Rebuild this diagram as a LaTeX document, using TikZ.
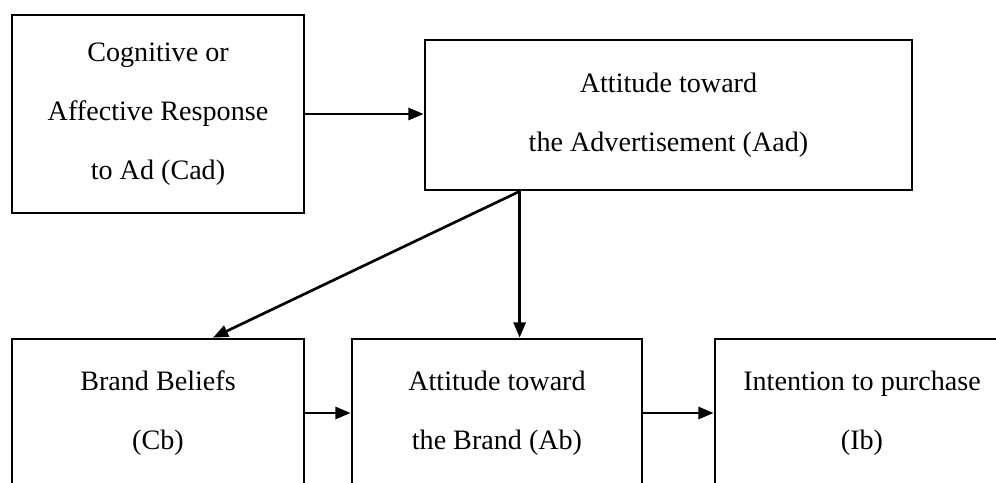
\documentclass[tikz,border=0pt]{standalone}
\usepackage{fontspec}
\setmainfont{Liberation Serif}
\usetikzlibrary{arrows.meta,positioning}

\begin{document}
\begin{tikzpicture}[
    x=0.025cm, y=-0.025cm,
    every node/.style={font=\fontsize{20}{42}\selectfont},
    box/.style={rectangle, draw, line width=1.9pt, align=center, inner sep=0pt},
    e/.style={-{Triangle[length=3.8mm, width=3mm]}, line width=1.9pt},
  ]
  \useasboundingbox (0,0) rectangle (996,482);
  \clip (0,0) rectangle (996,482);
  \node[box, minimum width=7.3cm, minimum height=4.95cm] (cad) at (158,114)
    {Cognitive or\\Affective Response\\to Ad (Cad)};
  \node[box, minimum width=12.175cm, minimum height=3.75cm] (aad) at (668.5,115)
    {Attitude toward\\the Advertisement (Aad)};
  \node[box, minimum width=7.3cm, minimum height=3.7cm] (cb) at (158,413)
    {Brand Beliefs\\(Cb)};
  \node[box, minimum width=7.25cm, minimum height=3.7cm] (ab) at (497,413)
    {Attitude toward\\the Brand (Ab)};
  \node[box, minimum width=7.35cm, minimum height=3.7cm] (ib) at (862,413)
    {Intention to purchase\\(Ib)};
  \coordinate (split) at ([xshift=2.4cm]aad.south west);
  \draw[e] (cad.east) -- (cad.east -| aad.west);
  \draw[e] (split) -- (split |- ab.north);
  \draw[e] (split) -- ([xshift=1.375cm]cb.north);
  \draw[e] (cb.east) -- (ab.west);
  \draw[e] (ab.east) -- (ib.west);
\end{tikzpicture}
\end{document}
